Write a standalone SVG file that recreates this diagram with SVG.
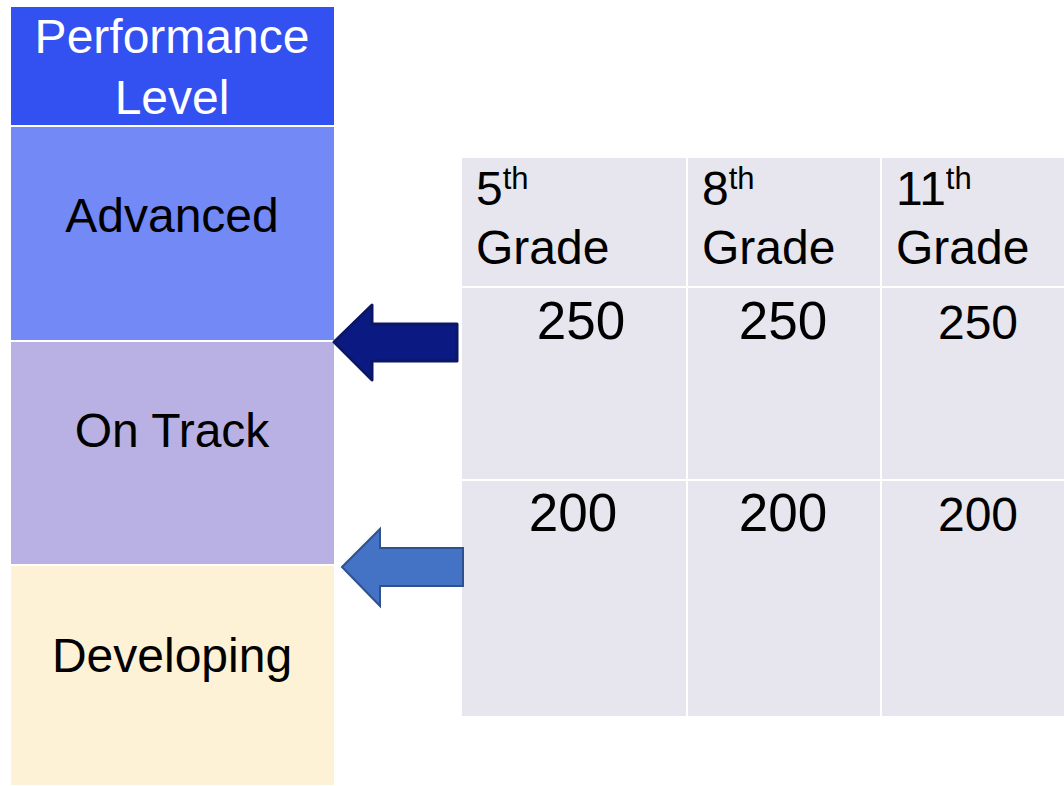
<svg xmlns="http://www.w3.org/2000/svg" width="1064" height="786" viewBox="0 0 1064 786">
<style>
text{font-family:"Liberation Sans",Arial,sans-serif;font-size:48px;fill:#000}
.w{fill:#fff}
.c{text-anchor:middle}
.cell{fill:#e7e6ee}
.sup{font-size:31px}
.n{font-size:53px}
.n3{font-size:48px}
</style>
<rect width="1064" height="786" fill="#fff"/>
<g id="header"><rect x="11" y="7" width="323" height="118" fill="#3350f0"/><text class="w c" x="172" y="53">Performance</text><text class="w c" x="172" y="114">Level</text></g>
<g id="advanced"><rect x="11" y="127" width="323" height="213" fill="#7389f6"/><text class="c" x="172" y="232">Advanced</text></g>
<g id="ontrack"><rect x="11" y="342" width="323" height="222" fill="#b9b0e4"/><text class="c" x="172" y="447">On Track</text></g>
<g id="developing"><rect x="11" y="566" width="323" height="219" fill="#fdf1d6"/><text class="c" x="172" y="672">Developing</text></g>
<g id="table">
<rect class="cell" x="462" y="158" width="224" height="128"/>
<rect class="cell" x="688" y="158" width="192" height="128"/>
<rect class="cell" x="882" y="158" width="182" height="128"/>
<rect class="cell" x="462" y="288" width="224" height="191"/>
<rect class="cell" x="688" y="288" width="192" height="191"/>
<rect class="cell" x="882" y="288" width="182" height="191"/>
<rect class="cell" x="462" y="481" width="224" height="235"/>
<rect class="cell" x="688" y="481" width="192" height="235"/>
<rect class="cell" x="882" y="481" width="182" height="235"/>
<text x="476" y="205">5<tspan class="sup" dy="-16">th</tspan></text>
<text x="476" y="264">Grade</text>
<text x="702" y="205">8<tspan class="sup" dy="-16">th</tspan></text>
<text x="702" y="264">Grade</text>
<text x="896" y="205">11<tspan class="sup" dy="-16">th</tspan></text>
<text x="896" y="264">Grade</text>
<text class="c n" x="581" y="339">250</text>
<text class="c n" x="783" y="339">250</text>
<text class="c n3" x="978" y="339">250</text>
<text class="c n" x="573" y="531">200</text>
<text class="c n" x="783" y="531">200</text>
<text class="c n3" x="978" y="531">200</text>
</g>
<g id="connectors">
<path d="M334,342 L372,305 L372,324 L457,324 L457,361 L372,361 L372,380 Z" fill="#0a1a82" stroke="#0b1765" stroke-width="3" stroke-linejoin="round"/>
<path d="M342,567 L380,529 L380,548 L463,548 L463,586 L380,586 L380,606 Z" fill="#4472c4" stroke="#2f528f" stroke-width="2"/>
</g>
</svg>
